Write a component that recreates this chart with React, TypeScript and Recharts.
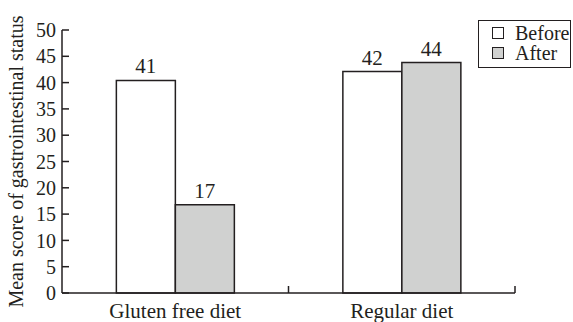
import { BarChart, Bar, XAxis, YAxis, LabelList } from "recharts";

const categories = ["Gluten free diet", "Regular diet"];
const beforeValues = [40.4, 42.1];
const afterValues = [16.8, 43.8];
const beforeLabels = ["41", "42"];
const afterLabels = ["17", "44"];
const yTicks = [0, 5, 10, 15, 20, 25, 30, 35, 40, 45, 50];
const seriesNames = ["Before", "After"];

const data = categories.map((name, i) => ({
  name,
  before: beforeValues[i],
  after: afterValues[i],
  beforeLabel: beforeLabels[i],
  afterLabel: afterLabels[i],
}));

const font = "'Liberation Serif', 'Times New Roman', serif";
const ink = "#231f20";
const grey = "#d0d1d0";
const fills = ["#fff", grey];

// category label under the band centre, plus a small upward tick at the band's right edge
const BottomTick = (props: any) => {
  const { x, y, payload } = props;
  const edge = x + (payload.offset ?? 0);
  return (
    <g>
      <text x={x} y={y + 25} textAnchor="middle" fill={ink} fontSize={21} fontFamily={font}>
        {payload.value}
      </text>
      <line x1={edge} y1={y} x2={edge} y2={y - 7} stroke={ink} strokeWidth={1.5} />
    </g>
  );
};

// legend box sits over the top-right corner, outside recharts' layout
const LegendBox = () => (
  <div
    style={{
      position: "absolute",
      left: 478,
      top: 20,
      width: 93,
      height: 48,
      border: `1px solid ${ink}`,
      background: "#fff",
      fontFamily: font,
      fontSize: 20,
      color: ink,
      lineHeight: "20px",
      paddingTop: 2,
      boxSizing: "border-box",
    }}
  >
    {seriesNames.map((name, i) => (
      <div key={name} style={{ display: "flex", alignItems: "center", height: 20 }}>
        <span
          style={{
            display: "inline-block",
            width: 10,
            height: 10,
            border: `1px solid ${ink}`,
            background: fills[i],
            marginLeft: 13,
            marginRight: 11,
          }}
        />
        {name}
      </div>
    ))}
  </div>
);

export default function App() {
  return (
    <div style={{ position: "absolute", left: 0, top: 0, width: 573, height: 322, background: "#fff" }}>
      <BarChart
        width={573}
        height={322}
        data={data}
        margin={{ top: 30, right: 58, bottom: 0, left: 0 }}
        barCategoryGap="24%"
        barGap={0}
      >
        <XAxis
          dataKey="name"
          height={29}
          interval={0}
          tickLine={false}
          tickSize={0}
          tickMargin={0}
          axisLine={{ stroke: ink, strokeWidth: 1.5 }}
          tick={<BottomTick />}
        />
        <YAxis
          domain={[0, 50]}
          ticks={yTicks}
          width={62}
          interval={0}
          tickSize={-7}
          tickMargin={13}
          axisLine={{ stroke: ink, strokeWidth: 1.5 }}
          tickLine={{ stroke: ink, strokeWidth: 1.5 }}
          tick={{ fill: ink, fontSize: 20, fontFamily: font }}
          label={{
            value: "Mean score of gastrointestinal status",
            angle: -90,
            position: "insideLeft",
            offset: 16,
            style: { fill: ink, fontSize: 20, fontFamily: font, textAnchor: "middle" },
          }}
        />
        <Bar dataKey="before" fill={fills[0]} stroke={ink} strokeWidth={1.5} isAnimationActive={false}>
          <LabelList dataKey="beforeLabel" position="top" offset={7} style={{ fill: ink, fontSize: 21, fontFamily: font }} />
        </Bar>
        <Bar dataKey="after" fill={fills[1]} stroke={ink} strokeWidth={1.5} isAnimationActive={false}>
          <LabelList dataKey="afterLabel" position="top" offset={7} style={{ fill: ink, fontSize: 21, fontFamily: font }} />
        </Bar>
      </BarChart>
      <LegendBox />
    </div>
  );
}
